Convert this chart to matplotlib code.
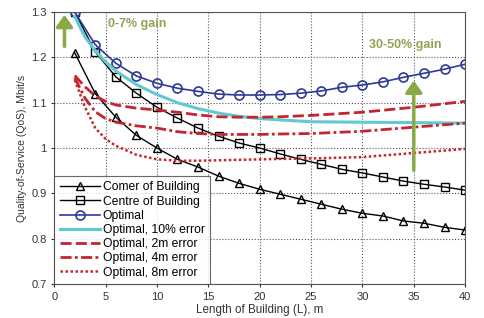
import numpy as np
import matplotlib
matplotlib.use("Agg")
import matplotlib.pyplot as plt

plt.rcParams['font.family'] = ['Liberation Sans', 'DejaVu Sans']

# marker curves (every 2 m)
L = [2, 4, 6, 8, 10, 12, 14, 16, 18, 20, 22, 24, 26, 28, 30, 32, 34, 36, 38, 40]
corner = [1.21, 1.12, 1.068, 1.028, 1.0, 0.975, 0.958, 0.938, 0.922, 0.909,
          0.898, 0.887, 0.876, 0.865, 0.856, 0.85, 0.839, 0.834, 0.825, 0.819]
centre = [1.3, 1.212, 1.157, 1.121, 1.09, 1.066, 1.044, 1.026, 1.011, 1.0,
          0.987, 0.975, 0.964, 0.953, 0.945, 0.936, 0.927, 0.92, 0.914, 0.907]
optimal = [1.3, 1.228, 1.187, 1.159, 1.143, 1.132, 1.125, 1.119, 1.117, 1.117,
           1.118, 1.121, 1.126, 1.134, 1.139, 1.146, 1.156, 1.165, 1.174, 1.185]

# error curves
Le = [2, 3, 4, 5, 6, 8, 10, 12, 14, 16, 18, 20, 22, 25, 30, 35, 40]
err10 = [1.29, 1.245, 1.215, 1.19, 1.17, 1.14, 1.118, 1.10, 1.087, 1.077, 1.07,
         1.065, 1.062, 1.058, 1.057, 1.056, 1.055]
err2 = [1.16, 1.135, 1.115, 1.103, 1.095, 1.088, 1.084, 1.079, 1.073, 1.069, 1.068,
        1.068, 1.069, 1.072, 1.079, 1.09, 1.103]
err4 = [1.155, 1.11, 1.08, 1.065, 1.057, 1.049, 1.044, 1.036, 1.032, 1.03, 1.03,
        1.03, 1.031, 1.032, 1.037, 1.046, 1.055]
err8 = [1.15, 1.09, 1.044, 1.02, 1.005, 0.985, 0.975, 0.972, 0.972, 0.973, 0.974,
        0.975, 0.976, 0.977, 0.98, 0.989, 0.998]

fig = plt.figure(figsize=(4.84, 3.18), dpi=100)
ax = fig.add_axes([0.112, 0.107, 0.849, 0.855])

red = '#c4262e'
ax.plot(L, corner, color='black', lw=1, marker='^', ms=6, mfc='none', mec='black', label='Comer of Building')
ax.plot(L, centre, color='black', lw=1, marker='s', ms=5.5, mfc='none', mec='black', label='Centre of Building')
ax.plot(L, optimal, color='#2e3a93', lw=1.2, marker='o', ms=6.5, mfc='none', mec='#2e3a93', mew=1.2, label='Optimal')
ax.plot(Le, err10, color='#63c8cf', lw=2.2, label='Optimal, 10% error')
ax.plot(Le, err2, color=red, lw=2, ls=(0, (4, 1.5)), label='Optimal, 2m error')
ax.plot(Le, err4, color=red, lw=2, ls=(0, (4, 1.2, 1, 1.2)), label='Optimal, 4m error')
ax.plot(Le, err8, color=red, lw=1.8, ls=(0, (1, 1)), label='Optimal, 8m error')

# gain arrows
green = '#8aa845'
ax.annotate('', xy=(1.0, 1.3), xytext=(1.0, 1.218),
            arrowprops=dict(arrowstyle='-|>,head_width=0.5,head_length=0.7', color=green, lw=2.5))
ax.text(5.25, 1.274, '0-7% gain', color='#9a9f55', fontsize=9, fontweight='bold', va='center')
ax.annotate('', xy=(35, 1.155), xytext=(35, 0.945),
            arrowprops=dict(arrowstyle='-|>,head_width=0.5,head_length=0.7', color=green, lw=2.5))
ax.text(30.6, 1.227, '30-50% gain', color='#9a9f55', fontsize=9, fontweight='bold', va='center')

ax.set_xlim(0, 40)
ax.set_ylim(0.7, 1.3)
ax.set_xticks(np.arange(0, 41, 5))
ax.set_yticks([0.7, 0.8, 0.9, 1.0, 1.1, 1.2, 1.3])
ax.set_yticklabels(['0.7', '0.8', '0.9', '1', '1.1', '1.2', '1.3'])
ax.grid(True, color='#555555', ls=':', lw=0.8)
ax.tick_params(labelsize=8, colors='#333333', length=2)
ax.set_xlabel('Length of Building (L), m', fontsize=8.4, color='#333333', labelpad=2)
ax.set_ylabel('Quality-of-Service (QoS), Mbit/s', fontsize=7.5, color='#333333', labelpad=3)
for s in ax.spines.values():
    s.set_color('#555555')

leg = ax.legend(loc='lower left', fontsize=8.7, frameon=True, fancybox=False,
                borderaxespad=0, handlelength=3.3, labelspacing=0.18,
                handletextpad=0.25, borderpad=0.45)
leg.get_frame().set_edgecolor('#444444')
leg.get_frame().set_linewidth(0.8)

fig.savefig('out.png', dpi=100)
